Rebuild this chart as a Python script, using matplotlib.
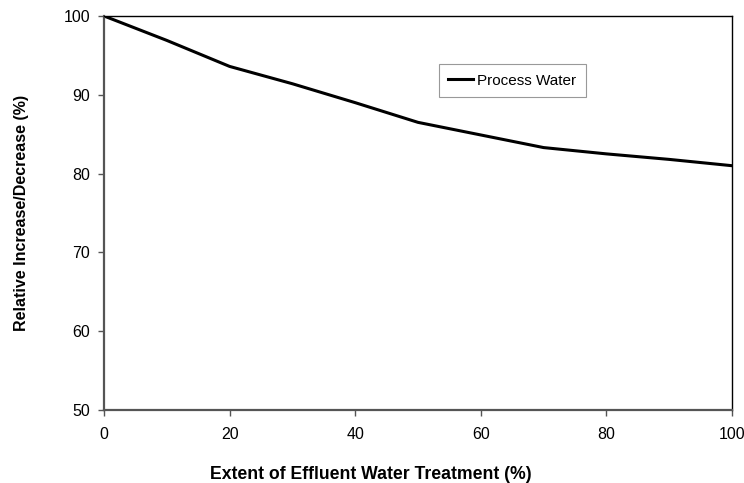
import matplotlib
matplotlib.use("Agg")
import matplotlib.pyplot as plt

# data
treatment = [0, 10, 20, 30, 40, 50, 60, 70, 80, 90, 100]
process_water = [100, 96.9, 93.6, 91.4, 89.0, 86.5, 84.9, 83.3, 82.5, 81.8, 81.0]

plt.rcParams['font.family'] = ['Liberation Sans', 'DejaVu Sans']

fig = plt.figure(figsize=(7.44, 4.83), dpi=100)
ax = fig.add_axes([0.1398, 0.1512, 0.8441, 0.8157])

ax.plot(treatment, process_water, color='black', linewidth=2.2, label='Process Water')

ax.set_xlim(0, 100)
ax.set_ylim(50, 100)
ax.set_xticks([0, 20, 40, 60, 80, 100])
ax.set_yticks([50, 60, 70, 80, 90, 100])
ax.tick_params(direction='out', length=4, width=1, colors='#555555', labelcolor='black', labelsize=11.5)
ax.tick_params(axis='x', pad=8)
ax.tick_params(axis='y', pad=6)

for s in ['left', 'bottom']:
    ax.spines[s].set_color('#555555')
    ax.spines[s].set_linewidth(1.6)
for s in ['top', 'right']:
    ax.spines[s].set_color('black')
    ax.spines[s].set_linewidth(1.0)

ax.set_xlabel('Extent of Effluent Water Treatment (%)', fontsize=12.7, fontweight='bold', va='top')
ax.xaxis.set_label_coords(0.425, -0.141)
ax.set_ylabel('Relative Increase/Decrease (%)', fontsize=11.5, fontweight='bold')
ax.yaxis.set_label_coords(-0.12, 0.5)

leg = ax.legend(loc='upper left', bbox_to_anchor=(0.533, 0.878), fontsize=11, fancybox=False,
                framealpha=1, edgecolor='#999999', handlelength=1.6, handletextpad=0.3,
                borderpad=0.62, borderaxespad=0)
leg.get_frame().set_linewidth(0.8)

fig.savefig('out.png', dpi=100)
